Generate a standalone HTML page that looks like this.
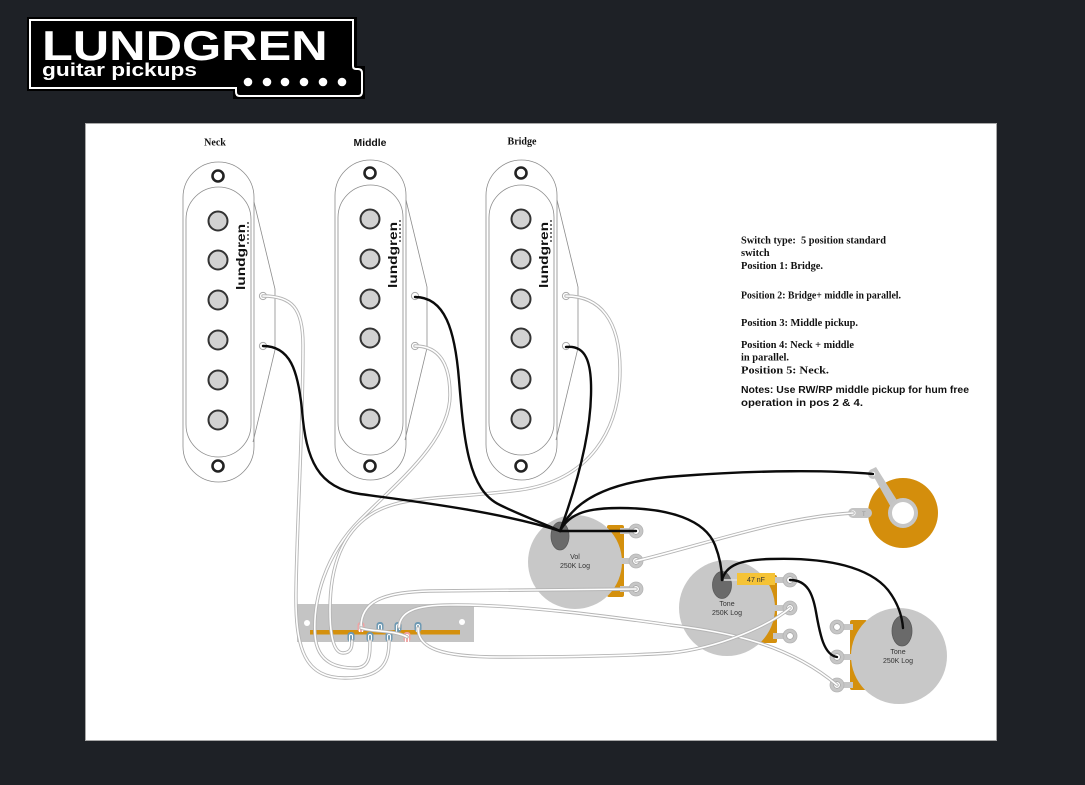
<!DOCTYPE html>
<html><head><meta charset="utf-8"><style>
html,body{margin:0;padding:0;background:#1e2126;}
#wrap{position:relative;width:1085px;height:785px;overflow:hidden;}
svg{display:block;}
.bw{fill:none;stroke:#0b0b0b;stroke-width:2.4;stroke-linecap:round;}
.w1{fill:none;stroke:#b5b5b5;stroke-width:3.4;stroke-linecap:round;}
.w2{fill:none;stroke:#ffffff;stroke-width:1.6;stroke-linecap:round;}
.pk{fill:none;stroke:#8c8c8c;stroke-width:0.8;}
.pole{fill:#d2d2d2;stroke:#333;stroke-width:2;}
.scr{fill:#fff;stroke:#222;stroke-width:2.6;}
.eye{fill:#fff;stroke:#aaa;stroke-width:1;}
.note{font-family:"Liberation Serif",serif;font-weight:bold;font-size:10.5px;fill:#111;}
.lug{fill:#c6c6c6;stroke:#b4b4b4;stroke-width:0.8;}
.hole{fill:#fff;stroke:#999;stroke-width:0.6;}
.pt{font-family:"Liberation Sans",sans-serif;font-size:7px;fill:#333;text-anchor:middle;}
#logo{position:absolute;left:42px;top:25px;font-family:"Liberation Sans",sans-serif;font-weight:bold;font-size:42px;line-height:42px;color:#fff;text-transform:uppercase;transform:scaleX(1.2);transform-origin:0 0;white-space:nowrap;letter-spacing:0;}
</style></head><body>
<div id="wrap">
<svg width="1085" height="785" viewBox="0 0 1085 785" xmlns="http://www.w3.org/2000/svg">
<rect x="0" y="0" width="1085" height="785" fill="#1e2126"/>

<!-- Logo -->
<path d="M27,17 H357 V66 H365 V99 H233 V91 H27 Z" fill="#000"/>
<path d="M30,20 H353 V66 Q353,69 356,69 H358 Q362,69 362,73 V92 Q362,96 358,96 H240 Q236,96 236,92 V88 H30 Z" fill="#000" stroke="#fff" stroke-width="2"/>
<text x="42" y="76" font-family="Liberation Sans, sans-serif" font-weight="bold" font-size="18" fill="#fff" textLength="155" lengthAdjust="spacingAndGlyphs">guitar pickups</text>
<g fill="#fff">
<circle cx="248" cy="82" r="4.3"/><circle cx="267" cy="82" r="4.3"/><circle cx="285" cy="82" r="4.3"/>
<circle cx="304" cy="82" r="4.3"/><circle cx="323" cy="82" r="4.3"/><circle cx="342" cy="82" r="4.3"/>
</g>

<!-- Page -->
<rect x="85.5" y="123.5" width="911" height="617" fill="#fff" stroke="#a8a8a8" stroke-width="1"/>

<!-- Titles -->
<text x="215" y="145.5" text-anchor="middle" font-family="Liberation Serif, serif" font-weight="bold" font-size="10" fill="#111">Neck</text>
<text x="370" y="146" text-anchor="middle" font-family="Liberation Sans, sans-serif" font-weight="bold" font-size="10.4" fill="#111">Middle</text>
<text x="522" y="144.5" text-anchor="middle" font-family="Liberation Serif, serif" font-weight="bold" font-size="10" fill="#111">Bridge</text>

<!-- Pickups -->
<g transform="translate(218,0)">
<rect x="-35" y="162" width="71" height="320" rx="35.5" fill="#fff" class="pk"/>
<rect x="-32" y="187" width="65" height="270" rx="32.5" class="pk"/>
<polyline points="36,202 57,289 57,350 35,442" class="pk"/>
<circle cx="0" cy="221" r="9.5" class="pole"/><circle cx="0" cy="260" r="9.5" class="pole"/>
<circle cx="0" cy="300" r="9.5" class="pole"/><circle cx="0" cy="340" r="9.5" class="pole"/>
<circle cx="0" cy="380" r="9.5" class="pole"/><circle cx="0" cy="420" r="9.5" class="pole"/>
<circle cx="0" cy="176" r="5.5" class="scr"/><circle cx="0" cy="466" r="5.5" class="scr"/>
<circle cx="45" cy="296" r="3.6" class="eye"/><circle cx="45" cy="346" r="3.6" class="eye"/>
<text transform="translate(27,290) rotate(-90)" font-family="Liberation Sans, sans-serif" font-weight="bold" font-size="12" fill="#111" textLength="66" lengthAdjust="spacingAndGlyphs">lundgren</text>
<g fill="#111"><circle cx="30" cy="223" r="0.9"/><circle cx="30" cy="227" r="0.9"/><circle cx="30" cy="231" r="0.9"/><circle cx="30" cy="235" r="0.9"/><circle cx="30" cy="239" r="0.9"/><circle cx="30" cy="243" r="0.9"/></g>
</g>
<g transform="translate(370,-2)">
<rect x="-35" y="162" width="71" height="320" rx="35.5" fill="#fff" class="pk"/>
<rect x="-32" y="187" width="65" height="270" rx="32.5" class="pk"/>
<polyline points="36,202 57,289 57,350 35,442" class="pk"/>
<circle cx="0" cy="221" r="9.5" class="pole"/><circle cx="0" cy="261" r="9.5" class="pole"/>
<circle cx="0" cy="301" r="9.5" class="pole"/><circle cx="0" cy="340" r="9.5" class="pole"/>
<circle cx="0" cy="381" r="9.5" class="pole"/><circle cx="0" cy="421" r="9.5" class="pole"/>
<circle cx="0" cy="175" r="5.5" class="scr"/><circle cx="0" cy="468" r="5.5" class="scr"/>
<circle cx="45" cy="298" r="3.6" class="eye"/><circle cx="45" cy="348" r="3.6" class="eye"/>
<text transform="translate(27,290) rotate(-90)" font-family="Liberation Sans, sans-serif" font-weight="bold" font-size="12" fill="#111" textLength="66" lengthAdjust="spacingAndGlyphs">lundgren</text>
<g fill="#111"><circle cx="30" cy="223" r="0.9"/><circle cx="30" cy="227" r="0.9"/><circle cx="30" cy="231" r="0.9"/><circle cx="30" cy="235" r="0.9"/><circle cx="30" cy="239" r="0.9"/><circle cx="30" cy="243" r="0.9"/></g>
</g>
<g transform="translate(521,-2)">
<rect x="-35" y="162" width="71" height="320" rx="35.5" fill="#fff" class="pk"/>
<rect x="-32" y="187" width="65" height="270" rx="32.5" class="pk"/>
<polyline points="36,202 57,289 57,350 35,442" class="pk"/>
<circle cx="0" cy="221" r="9.5" class="pole"/><circle cx="0" cy="261" r="9.5" class="pole"/>
<circle cx="0" cy="301" r="9.5" class="pole"/><circle cx="0" cy="340" r="9.5" class="pole"/>
<circle cx="0" cy="381" r="9.5" class="pole"/><circle cx="0" cy="421" r="9.5" class="pole"/>
<circle cx="0" cy="175" r="5.5" class="scr"/><circle cx="0" cy="468" r="5.5" class="scr"/>
<circle cx="45" cy="298" r="3.6" class="eye"/><circle cx="45" cy="348" r="3.6" class="eye"/>
<text transform="translate(27,290) rotate(-90)" font-family="Liberation Sans, sans-serif" font-weight="bold" font-size="12" fill="#111" textLength="66" lengthAdjust="spacingAndGlyphs">lundgren</text>
<g fill="#111"><circle cx="30" cy="223" r="0.9"/><circle cx="30" cy="227" r="0.9"/><circle cx="30" cy="231" r="0.9"/><circle cx="30" cy="235" r="0.9"/><circle cx="30" cy="239" r="0.9"/><circle cx="30" cy="243" r="0.9"/></g>
</g>

<!-- Notes -->
<text class="note" x="741" y="243.5" textLength="145" lengthAdjust="spacingAndGlyphs">Switch type:&#160; 5 position standard</text>
<text class="note" x="741" y="256">switch</text>
<text class="note" x="741" y="269" textLength="82" lengthAdjust="spacingAndGlyphs">Position 1: Bridge.</text>
<text class="note" x="741" y="298.5" textLength="160" lengthAdjust="spacingAndGlyphs">Position 2: Bridge+ middle in parallel.</text>
<text class="note" x="741" y="326" textLength="117" lengthAdjust="spacingAndGlyphs">Position 3: Middle pickup.</text>
<text class="note" x="741" y="348" textLength="113" lengthAdjust="spacingAndGlyphs">Position 4: Neck + middle</text>
<text class="note" x="741" y="360.5" textLength="48" lengthAdjust="spacingAndGlyphs">in parallel.</text>
<text class="note" x="741" y="373.5" textLength="88" lengthAdjust="spacingAndGlyphs">Position 5: Neck.</text>
<text x="741" y="393" font-family="Liberation Sans, sans-serif" font-weight="bold" font-size="10.4" fill="#111" textLength="228" lengthAdjust="spacingAndGlyphs">Notes: Use RW/RP middle pickup for hum free</text>
<text x="741" y="406" font-family="Liberation Sans, sans-serif" font-weight="bold" font-size="10.4" fill="#111" textLength="122" lengthAdjust="spacingAndGlyphs">operation in pos 2 &amp; 4.</text>

<!-- Volume pot -->
<rect x="607" y="525" width="17" height="72" rx="2" fill="#d4900d"/>
<rect x="620" y="528" width="16" height="6" fill="#c6c6c6"/>
<rect x="620" y="558" width="16" height="6" fill="#c6c6c6"/>
<rect x="620" y="586" width="16" height="6" fill="#c6c6c6"/>
<circle cx="575" cy="562" r="47" fill="#c8c8c8"/>
<circle cx="636" cy="531" r="7" class="lug"/><circle cx="636" cy="531" r="3.3" class="hole"/>
<circle cx="636" cy="561" r="7" class="lug"/><circle cx="636" cy="561" r="3.3" class="hole"/>
<circle cx="636" cy="589" r="7" class="lug"/><circle cx="636" cy="589" r="3.3" class="hole"/>
<ellipse cx="560" cy="536" rx="9" ry="14" fill="#6a6a6a" stroke="#5a5a5a" stroke-width="0.8"/>
<text class="pt" x="575" y="559">Vol</text>
<text class="pt" x="575" y="568">250K Log</text>

<!-- Tone 1 -->
<rect x="760" y="575" width="17" height="68" rx="2" fill="#d4900d"/>
<rect x="773" y="577" width="16" height="6" fill="#c6c6c6"/>
<rect x="773" y="605" width="16" height="6" fill="#c6c6c6"/>
<rect x="773" y="633" width="16" height="6" fill="#c6c6c6"/>
<circle cx="727" cy="608" r="48" fill="#c8c8c8"/>
<circle cx="790" cy="580" r="7" class="lug"/><circle cx="790" cy="580" r="3.3" class="hole"/>
<circle cx="790" cy="608" r="7" class="lug"/><circle cx="790" cy="608" r="3.3" class="hole"/>
<circle cx="790" cy="636" r="7" class="lug"/><circle cx="790" cy="636" r="3.3" class="hole"/>
<ellipse cx="722" cy="585" rx="9.5" ry="13.5" fill="#6a6a6a" stroke="#5a5a5a" stroke-width="0.8"/>
<line x1="724" y1="580" x2="738" y2="580" stroke="#e0e0e0" stroke-width="1.5"/>
<rect x="737" y="573" width="38" height="12" fill="#f5c336"/>
<text class="pt" x="756" y="582">47 nF</text>
<text class="pt" x="727" y="606">Tone</text>
<text class="pt" x="727" y="615">250K Log</text>

<!-- Tone 2 -->
<rect x="850" y="620" width="17" height="70" rx="2" fill="#d4900d"/>
<rect x="837" y="624" width="16" height="6" fill="#c6c6c6"/>
<rect x="837" y="654" width="16" height="6" fill="#c6c6c6"/>
<rect x="837" y="682" width="16" height="6" fill="#c6c6c6"/>
<circle cx="899" cy="656" r="48" fill="#c8c8c8"/>
<circle cx="837" cy="627" r="7" class="lug"/><circle cx="837" cy="627" r="3.3" class="hole"/>
<circle cx="837" cy="657" r="7" class="lug"/><circle cx="837" cy="657" r="3.3" class="hole"/>
<circle cx="837" cy="685" r="7" class="lug"/><circle cx="837" cy="685" r="3.3" class="hole"/>
<ellipse cx="902" cy="631" rx="10" ry="15" fill="#6a6a6a" stroke="#5a5a5a" stroke-width="0.8"/>
<text class="pt" x="898" y="654">Tone</text>
<text class="pt" x="898" y="663">250K Log</text>

<!-- Output jack -->
<circle cx="903" cy="513" r="35" fill="#d48e0c"/>
<rect x="848" y="508" width="24" height="10" rx="5" fill="#c4c4c4"/>
<circle cx="853" cy="513" r="2.6" fill="#fff"/>
<text x="862" y="516" font-family="Liberation Sans, sans-serif" font-size="6" fill="#999">T</text>
<path d="M870,470 L876,467 L900,505 L893,511 Z" fill="#c4c4c4"/>
<circle cx="873" cy="474" r="5" fill="#c4c4c4"/>
<circle cx="873" cy="474" r="2.2" fill="#fff"/>
<circle cx="903" cy="513" r="15" fill="#c6c6c6"/>
<circle cx="903" cy="513" r="11" fill="#fff"/>

<!-- Switch -->
<rect x="297" y="604" width="177" height="38" fill="#c4c4c4"/>
<rect x="310" y="630" width="150" height="4.5" fill="#d4900d"/>
<circle cx="307" cy="623" r="3" fill="#fff"/>
<circle cx="462" cy="622" r="3" fill="#fff"/>
<g>
<rect x="357.5" y="622" width="7" height="10" rx="3" fill="#f0a3a3"/>
<rect x="376.5" y="622" width="7" height="10" rx="3" fill="#6d99b3"/>
<rect x="394.5" y="622" width="7" height="10" rx="3" fill="#6d99b3"/>
<rect x="414.5" y="622" width="7" height="10" rx="3" fill="#6d99b3"/>
<rect x="347.5" y="632" width="7" height="10" rx="3" fill="#6d99b3"/>
<rect x="366.5" y="632" width="7" height="10" rx="3" fill="#6d99b3"/>
<rect x="385.5" y="632" width="7" height="10" rx="3" fill="#6d99b3"/>
<rect x="403.5" y="632" width="7" height="10" rx="3" fill="#f0a3a3"/>
</g>
<g fill="none" stroke="#fff" stroke-width="1.1">
<path d="M359.5,632 V626 A1.5,1.5 0 0 1 362.5,626 V632"/>
<path d="M378.5,632 V626 A1.5,1.5 0 0 1 381.5,626 V630"/>
<path d="M396.5,632 V626 A1.5,1.5 0 0 1 399.5,626 V630"/>
<path d="M416.5,632 V626 A1.5,1.5 0 0 1 419.5,626 V632"/>
<path d="M349.5,642 V636 A1.5,1.5 0 0 1 352.5,636 V642"/>
<path d="M368.5,642 V636 A1.5,1.5 0 0 1 371.5,636 V642"/>
<path d="M387.5,642 V636 A1.5,1.5 0 0 1 390.5,636 V642"/>
<path d="M405.5,642 V636 A1.5,1.5 0 0 1 408.5,636 V642"/>
</g>

<!-- White wires -->
<g>
<path class="w1" d="M263,296 C292,296 303,308 303,345 C303,430 297,520 296,590 C295,650 305,678 345,678 C385,678 389,660 389,641"/>
<path class="w2" d="M263,296 C292,296 303,308 303,345 C303,430 297,520 296,590 C295,650 305,678 345,678 C385,678 389,660 389,641"/>
<path class="w1" d="M415,346 C440,346 450,365 450,395 C450,440 400,480 360,520 C325,555 313,600 315,635 C317,665 340,668 355,668 C370,668 370,655 370,641"/>
<path class="w2" d="M415,346 C440,346 450,365 450,395 C450,440 400,480 360,520 C325,555 313,600 315,635 C317,665 340,668 355,668 C370,668 370,655 370,641"/>
<path class="w1" d="M566,296 C600,296 620,320 620,370 C620,430 590,480 520,490 C440,500 400,495 370,515 C340,535 330,570 330,610 C330,640 335,653 343,653 C352,653 352,645 352,641"/>
<path class="w2" d="M566,296 C600,296 620,320 620,370 C620,430 590,480 520,490 C440,500 400,495 370,515 C340,535 330,570 330,610 C330,640 335,653 343,653 C352,653 352,645 352,641"/>
<path class="w1" d="M361,627 C361,603 380,592 430,591 L636,589"/>
<path class="w2" d="M361,627 C361,603 380,592 430,591 L636,589"/>
<path class="w1" d="M399,627 C400,612 415,605 450,605 C520,604 620,618 670,625 C730,632 790,645 837,685"/>
<path class="w2" d="M399,627 C400,612 415,605 450,605 C520,604 620,618 670,625 C730,632 790,645 837,685"/>
<path class="w1" d="M418,628 C418,648 440,657 500,657 C580,657 640,655 670,653 C720,648 770,625 790,608"/>
<path class="w2" d="M418,628 C418,648 440,657 500,657 C580,657 640,655 670,653 C720,648 770,625 790,608"/>
<path class="w1" d="M636,561 C700,546 780,517 853,513"/>
<path class="w2" d="M636,561 C700,546 780,517 853,513"/>
<path class="w1" d="M361,628 C372,632 395,630 407,637"/>
<path class="w2" d="M361,628 C372,632 395,630 407,637"/>
</g>

<!-- Black wires -->
<g>
<path class="bw" d="M263,346 C290,346 298,370 302,410 C306,460 318,488 360,494 C420,502 500,512 560,531"/>
<path class="bw" d="M415,297 C445,297 455,330 459,380 C464,440 468,490 500,505 C520,515 545,524 560,531"/>
<path class="bw" d="M566,347 C585,345 592,360 591,395 C590,440 575,490 560,531"/>
<path class="bw" d="M560,531 L636,531"/>
<path class="bw" d="M560,531 C575,495 620,480 680,476 C760,470 830,470 873,474"/>
<path class="bw" d="M560,531 C570,512 590,508 620,508 C670,508 705,520 715,545 C720,558 722,570 722,580"/>
<path class="bw" d="M722,580 C726,565 740,560 770,559 C830,557 870,568 888,590 C898,603 902,615 903,628"/>
<path class="bw" d="M790,580 C808,580 813,595 816,612 C820,635 824,655 837,657"/>
</g>
</svg>
<div id="logo">lundgren</div>
</div>
</body></html>
